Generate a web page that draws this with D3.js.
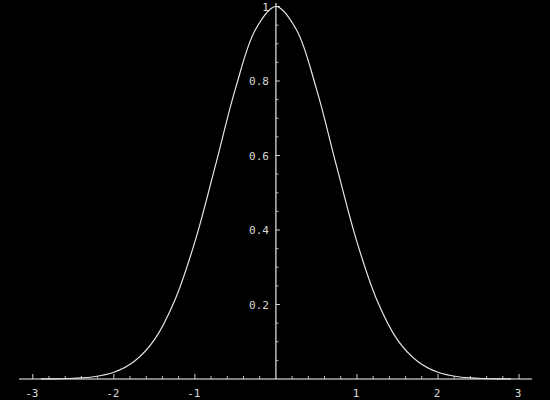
<!DOCTYPE html>
<html>
<head>
<meta charset="utf-8">
<script src="https://cdn.jsdelivr.net/npm/d3@7"></script>
<style>
  html, body { margin: 0; padding: 0; background: #000; }
  svg { display: block; }
</style>
</head>
<body>
<svg id="chart" width="550" height="400"></svg>
<script>
// curve points
var xValues = [-2.9, -2.75, -2.5, -2.25, -2, -1.75, -1.5, -1.25, -1, -0.75, -0.5, -0.25, 0,
               0.25, 0.5, 0.75, 1, 1.25, 1.5, 1.75, 2, 2.25, 2.5, 2.75, 2.9];
var yValues = [0.0002, 0.0005, 0.002, 0.006, 0.018, 0.047, 0.105, 0.21, 0.368, 0.57, 0.779, 0.939, 1,
               0.939, 0.779, 0.57, 0.368, 0.21, 0.105, 0.047, 0.018, 0.006, 0.002, 0.0005, 0.0002];

// tick labels
var xTicks = [-3, -2, -1, 1, 2, 3];
var xLabels = ["-3", "-2", "-1", "1", "2", "3"];
var yTicks = [0.2, 0.4, 0.6, 0.8, 1];
var yLabels = ["0.2", "0.4", "0.6", "0.8", "1"];

var svg = d3.select("#chart");
var font = "'DejaVu Sans Mono', monospace";

var x = d3.scaleLinear().domain([-3.17, 3.16]).range([19, 532]);
var y = d3.scaleLinear().domain([0, 1]).range([379, 6.5]);

// minor ticks every 0.2 on x, every 0.05 on y
var xMinor = d3.range(-15, 16).map(function (i) { return i * 0.2; })
    .filter(function (v) { return Math.abs(v - Math.round(v)) > 1e-6; });
var yMinor = d3.range(1, 20).map(function (i) { return i * 0.05; })
    .filter(function (v) { return Math.abs(v * 5 - Math.round(v * 5)) > 1e-6; });

// x axis
var gx = svg.append("g").attr("transform", "translate(0," + y(0) + ")");
gx.append("line").attr("x1", x(-3.17)).attr("x2", x(3.16))
    .attr("stroke", "#a8a8a8").attr("stroke-width", 1.5);
gx.selectAll(".xmaj").data(xTicks).enter().append("line")
    .attr("x1", function (d) { return x(d); }).attr("x2", function (d) { return x(d); })
    .attr("y1", 0).attr("y2", -5).attr("stroke", "#d0d0d0");
gx.selectAll(".xmin").data(xMinor).enter().append("line")
    .attr("x1", function (d) { return x(d); }).attr("x2", function (d) { return x(d); })
    .attr("y1", 0).attr("y2", -3).attr("stroke", "#c0c0c0");
gx.selectAll("text").data(xTicks).enter().append("text")
    .attr("x", function (d) { return x(d) - 1; }).attr("y", 18)
    .attr("text-anchor", "middle")
    .attr("font-family", font).attr("font-size", 11).attr("fill", "#d8d8d8")
    .text(function (d, i) { return xLabels[i]; });

// y axis
var gy = svg.append("g").attr("transform", "translate(" + x(0) + ",0)");
gy.append("line").attr("y1", y(0)).attr("y2", 3)
    .attr("stroke", "#e8e8e8").attr("stroke-width", 1.2);
gy.selectAll(".ymaj").data(yTicks).enter().append("line")
    .attr("y1", function (d) { return y(d); }).attr("y2", function (d) { return y(d); })
    .attr("x1", 0).attr("x2", 4).attr("stroke", "#d0d0d0");
gy.selectAll(".ymin").data(yMinor).enter().append("line")
    .attr("y1", function (d) { return y(d); }).attr("y2", function (d) { return y(d); })
    .attr("x1", 0).attr("x2", 2.5).attr("stroke", "#c0c0c0");
gy.selectAll("text").data(yTicks).enter().append("text")
    .attr("x", -7).attr("y", function (d) { return y(d) + 4; })
    .attr("text-anchor", "end")
    .attr("font-family", font).attr("font-size", 11).attr("fill", "#d8d8d8")
    .text(function (d, i) { return yLabels[i]; });

// curve
var pts = xValues.map(function (v, i) { return [v, yValues[i]]; });
var line = d3.line()
    .x(function (d) { return x(d[0]); })
    .y(function (d) { return y(d[1]); })
    .curve(d3.curveCatmullRom.alpha(0.5));

svg.append("path").datum(pts)
    .attr("d", line)
    .attr("fill", "none")
    .attr("stroke", "#e6e6e6")
    .attr("stroke-width", 1.2);
</script>
</body>
</html>
